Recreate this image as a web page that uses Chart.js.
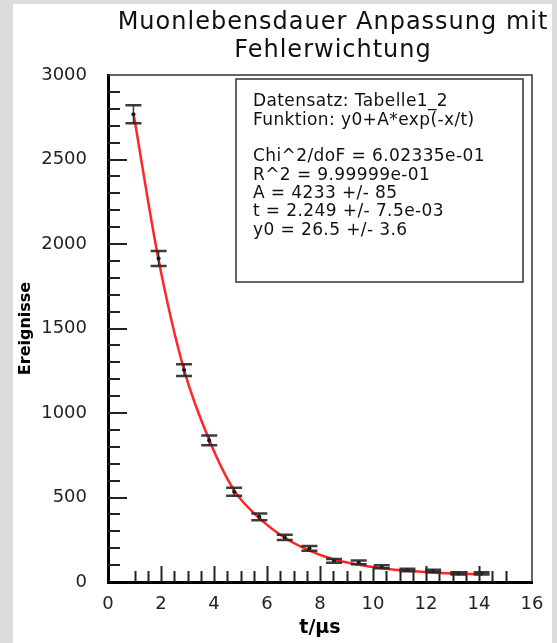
<!DOCTYPE html>
<html>
<head>
<meta charset="utf-8">
<script src="https://cdn.jsdelivr.net/npm/chart.js@4.4.1/dist/chart.umd.min.js"></script>
<style>
  html, body { margin: 0; padding: 0; background: #dcdcdc; }
  canvas { display: block; }
</style>
</head>
<body>
<canvas id="c" width="557" height="643"></canvas>
<script>
// Muon lifetime histogram with fitted exponential

const tValues     = [0.96, 1.91, 2.87, 3.82, 4.76, 5.71, 6.67, 7.60, 8.53, 9.46, 10.33, 11.30, 12.27, 13.22, 14.10];
const counts      = [2768, 1914, 1254, 838, 534, 386, 264, 199, 125, 116, 90, 71, 65, 51, 51];
const countErrors = [53, 44, 35, 29, 23, 20, 16, 14, 11, 11, 9, 8, 8, 7, 7];
const fitValues   = [2775, 1905, 1255, 840, 542, 378, 262, 186, 133, 102, 82, 66, 56, 49, 46];

const xTickValues = [0, 2, 4, 6, 8, 10, 12, 14, 16];
const yTickValues = [0, 500, 1000, 1500, 2000, 2500, 3000];

const titleLines = ['Muonlebensdauer Anpassung mit', 'Fehlerwichtung'];
const fitInfoLines = [
  'Datensatz: Tabelle1_2',
  'Funktion: y0+A*exp(-x/t)',
  '',
  'Chi^2/doF = 6.02335e-01',
  'R^2 = 9.99999e-01',
  'A = 4233 +/- 85',
  't = 2.249 +/- 7.5e-03',
  'y0 = 26.5 +/- 3.6'
];

const FONT = '"DejaVu Sans", Verdana, sans-serif';

// ---------- helpers ----------
function minorTicks(from, to, step) {
  const out = [];
  for (let v = from; v <= to + 1e-9; v += step) out.push(+v.toFixed(3));
  return out;
}
const xInnerTicks = minorTicks(1, 15, 0.5);
const yInnerTicks = minorTicks(100, 2900, 100);

// ---------- plugins ----------
const pagePlugin = {
  id: 'page',
  beforeDraw(chart) {
    const ctx = chart.ctx;
    ctx.save();
    ctx.fillStyle = '#dcdcdc';
    ctx.fillRect(0, 0, chart.width, chart.height);
    ctx.fillStyle = '#ffffff';
    ctx.fillRect(13, 4, 539, chart.height - 4);
    ctx.restore();
  },
  beforeDatasetsDraw(chart) {
    const { ctx, chartArea: a, scales: { x, y } } = chart;
    ctx.save();
    // top + right frame
    ctx.strokeStyle = '#333';
    ctx.lineWidth = 1.5;
    ctx.beginPath();
    ctx.moveTo(a.left, a.top);
    ctx.lineTo(a.right, a.top);
    ctx.lineTo(a.right, a.bottom);
    ctx.stroke();
    // inner ticks
    ctx.strokeStyle = '#222';
    ctx.lineWidth = 2;
    ctx.beginPath();
    xInnerTicks.forEach(v => {
      const px = Math.round(x.getPixelForValue(v)) + 0.5;
      const len = (v % 2 === 0) ? 16 : 11;
      ctx.moveTo(px, a.bottom);
      ctx.lineTo(px, a.bottom - len);
    });
    yInnerTicks.forEach(v => {
      const py = Math.round(y.getPixelForValue(v));
      const len = (v % 500 === 0) ? 19 : 12;
      ctx.moveTo(a.left, py);
      ctx.lineTo(a.left + len, py);
    });
    ctx.stroke();
    ctx.restore();
  },
  afterDatasetsDraw(chart) {
    const { ctx, scales: { x, y } } = chart;
    ctx.save();
    ctx.strokeStyle = 'rgba(40,40,40,0.9)';
    tValues.forEach((t, i) => {
      const px = x.getPixelForValue(t);
      const top = y.getPixelForValue(counts[i] + countErrors[i]);
      const bot = y.getPixelForValue(counts[i] - countErrors[i]);
      ctx.lineWidth = 1.5;
      ctx.beginPath();
      ctx.moveTo(px, top); ctx.lineTo(px, bot);
      ctx.stroke();
      ctx.lineWidth = 2.5;
      ctx.beginPath();
      ctx.moveTo(px - 8, top); ctx.lineTo(px + 8, top);
      ctx.moveTo(px - 8, bot); ctx.lineTo(px + 8, bot);
      ctx.stroke();
    });
    ctx.restore();
  },
  afterDraw(chart) {
    const ctx = chart.ctx;
    ctx.save();
    // title
    ctx.fillStyle = '#111';
    ctx.font = '24px ' + FONT;
    ctx.letterSpacing = '1px';
    ctx.textAlign = 'center';
    ctx.textBaseline = 'alphabetic';
    ctx.fillText(titleLines[0], 333, 29);
    ctx.fillText(titleLines[1], 333, 57);
    // fit info box
    ctx.strokeStyle = '#333';
    ctx.lineWidth = 1.5;
    ctx.strokeRect(236, 79, 287, 203);
    ctx.font = '17px ' + FONT;
    ctx.letterSpacing = '0.4px';
    ctx.textAlign = 'left';
    ctx.textBaseline = 'middle';
    fitInfoLines.forEach((s, i) => {
      if (s) ctx.fillText(s, 253, 102 + i * 18.3);
    });
    ctx.restore();
  }
};

// ---------- chart ----------
const points = tValues.map((t, i) => ({ x: t, y: counts[i] }));
const fitPoints = tValues.map((t, i) => ({ x: t, y: fitValues[i] }));

new Chart(document.getElementById('c'), {
  type: 'scatter',
  data: {
    datasets: [
      { data: points, showLine: false, pointRadius: 2, pointBackgroundColor: '#000', pointBorderWidth: 0 },
      { data: fitPoints, showLine: true, borderColor: 'rgba(255,0,0,0.85)', borderWidth: 2.5,
        pointRadius: 0, cubicInterpolationMode: 'monotone', fill: false }
    ]
  },
  options: {
    responsive: false,
    animation: false,
    events: [],
    layout: { padding: { top: 75, right: 25, bottom: 0, left: 0 } },
    plugins: { legend: { display: false }, tooltip: { enabled: false }, title: { display: false } },
    scales: {
      x: {
        type: 'linear', min: 0, max: 16,
        afterBuildTicks: s => { s.ticks = xTickValues.map(v => ({ value: v })); },
        afterFit: s => { s.height = 61; },
        grid: { display: true, drawOnChartArea: false, drawTicks: false },
        border: { display: true, color: '#000', width: 3 },
        ticks: { padding: 12, color: '#222', font: { family: FONT, size: 18 }, maxRotation: 0, autoSkip: false,
                 callback: v => String(v) },
        title: { display: true, text: 't/µs', color: '#000', font: { family: FONT, size: 19, weight: 'bold' },
                 padding: { top: 0, bottom: 4 } }
      },
      y: {
        type: 'linear', min: 0, max: 3000,
        afterBuildTicks: s => { s.ticks = yTickValues.map(v => ({ value: v })); },
        afterFit: s => { s.width = 108; },
        grid: { display: true, drawOnChartArea: false, drawTicks: false },
        border: { display: true, color: '#000', width: 3 },
        ticks: { padding: 21, color: '#222', font: { family: FONT, size: 18 }, autoSkip: false,
                 callback: v => String(v) },
        title: { display: true, text: 'Ereignisse', color: '#000', font: { family: FONT, size: 16, weight: 'bold' },
                 padding: { top: 16, bottom: 0 } }
      }
    }
  },
  plugins: [pagePlugin]
});
</script>
</body>
</html>
